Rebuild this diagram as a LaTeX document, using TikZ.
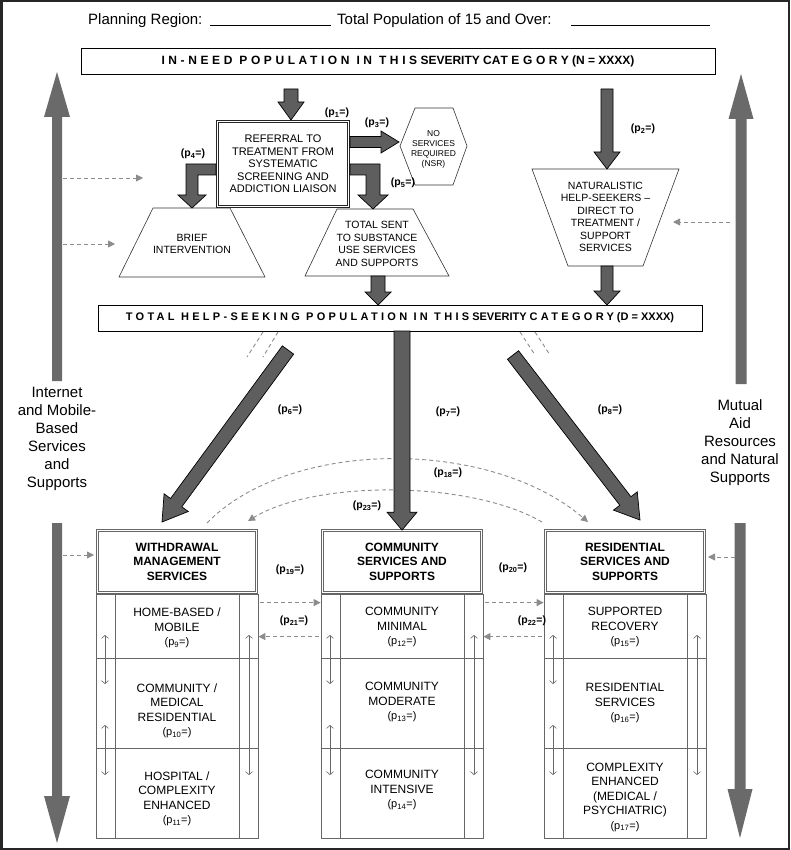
\documentclass[tikz,border=0pt]{standalone}
\usepackage{fontspec}
\setmainfont{Liberation Sans}
\usetikzlibrary{calc,arrows.meta}
\definecolor{arrgray}{HTML}{6A6A6A}
\definecolor{blkgray}{HTML}{5E5E5E}
\definecolor{linegray}{HTML}{666666}
\definecolor{dashgray}{HTML}{8C8C8C}
\newcommand{\pp}[1]{(p\textsubscript{#1}=)}
\newcommand{\rp}[1]{{\fontsize{11}{13}\selectfont(p\textsubscript{#1}=)}}
\newcommand{\spc}[1]{{\addfontfeatures{LetterSpace=30}#1}}
% style, start, end, half shaft, half head, head length
\newcommand{\blockarr}[6]{%
  \coordinate (bahead) at ($(#3)!#6!(#2)$);
  \draw[#1] ($(#2)!#4!90:(#3)$) -- ($(bahead)!#4!90:(#3)$) -- ($(bahead)!#5!90:(#3)$) -- (#3)
    -- ($(bahead)!#5!-90:(#3)$) -- ($(bahead)!#4!-90:(#3)$) -- ($(#2)!#4!-90:(#3)$) -- cycle;}
\tikzset{
 blk/.style={fill=blkgray, draw=black, line width=0.7pt, line join=miter},
 side/.style={fill=arrgray, draw=none},
 dsh/.style={draw=dashgray, line width=0.9pt, dash pattern=on 4pt off 3pt},
 dar/.style={dsh, -{Triangle[length=7pt,width=7pt]}},
 plab/.style={font=\bfseries\fontsize{10.5}{12}\selectfont, inner sep=0pt},
 hdr/.style={draw=linegray, double, double distance=1.8pt, line width=0.7pt, minimum width=159pt, minimum height=62pt, align=center, inner sep=0pt, font=\bfseries\fontsize{12}{14.5}\selectfont},
 body/.style={draw=linegray, line width=0.8pt, minimum width=162pt, minimum height=244pt, inner sep=0pt},
 rowtxt/.style={align=center, inner sep=0pt, font=\fontsize{12}{14.5}\selectfont},
 trap/.style={draw=black!80, line width=0.6pt},
 traptxt/.style={align=center, inner sep=0pt, font=\fontsize{10.5}{12.5}\selectfont},
 sidetxt/.style={align=center, inner sep=0pt, font=\fontsize{15}{18}\selectfont},
 tinyarr/.style={{Straight Barb[length=3pt,width=7pt]}-{Straight Barb[length=3pt,width=7pt]}, draw=linegray, line width=0.6pt}
}
\begin{document}
\begin{tikzpicture}[x=1pt,y=-1pt]
\useasboundingbox (0,0) rectangle (790,850);
\fill[white] (0,0) rectangle (790,850);
\draw[line width=2.5pt, black!85] (1.25,1.25) rectangle (788.75,848.75);

% header line
\node[anchor=base west, inner sep=0pt, font=\fontsize{15}{18}\selectfont] (plan) at (88,25) {Planning Region:};
\node[anchor=base west, inner sep=0pt, font=\fontsize{15}{18}\selectfont] (totpop) at (337,25) {Total Population of 15 and Over:};
\draw[line width=1pt] (210,26) -- (331,26);
\draw[line width=1pt] (571,26) -- (710,26);

% in-need box
\node[draw, line width=0.9pt, minimum width=634pt, minimum height=26pt, inner sep=0pt,
  font=\bfseries\fontsize{12}{14}\selectfont] (need) at (398,61)
  {\spc{IN-NEED POPULATION IN THIS} SEVERITY CA\spc{TEGORY} (N = XXXX)};

% side arrows
\coordinate (lupS) at (57,381); \coordinate (lupE) at (57,72);
\blockarr{side}{lupS}{lupE}{5pt}{13pt}{45pt}
\coordinate (ldnS) at (57,523); \coordinate (ldnE) at (57,843);
\blockarr{side}{ldnS}{ldnE}{5pt}{13pt}{47pt}
\coordinate (rupS) at (741,384); \coordinate (rupE) at (741,74);
\blockarr{side}{rupS}{rupE}{5.5pt}{12.5pt}{45pt}
\coordinate (rdnS) at (740,523); \coordinate (rdnE) at (740,838);
\blockarr{side}{rdnS}{rdnE}{5.5pt}{12.5pt}{49pt}

\node[sidetxt] (internet) at (57,439) {Internet\\and Mobile-\\Based\\Services\\and\\Supports};
\node[sidetxt] (mutual) at (740,443) {Mutual\\Aid\\Resources\\and Natural\\Supports};

% referral box
\node[draw=black!85, double, double distance=1.8pt, line width=0.7pt, minimum width=131pt, minimum height=85pt,
  align=center, inner sep=0pt, font=\fontsize{11}{12.5}\selectfont] (ref) at (283,164)
  {REFERRAL TO\\TREATMENT FROM\\SYSTEMATIC\\SCREENING AND\\ADDICTION LIAISON};

% NSR hexagon
\draw[trap] (400,146) -- (415,108) -- (453,108) -- (467,146) -- (453,185) -- (415,185) -- cycle;
\node[align=center, inner sep=0pt, font=\fontsize{8.5}{10}\selectfont] (nsr) at (433.5,149) {NO\\SERVICES\\REQUIRED\\(NSR)};

% trapezoids
\draw[trap] (153,208) -- (230,208) -- (265,277) -- (119,277) -- cycle;
\node[traptxt] (brief) at (192,244) {BRIEF\\INTERVENTION};
\draw[trap] (337,209) -- (413,209) -- (449,276) -- (305,276) -- cycle;
\node[traptxt] (sent) at (377,244) {TOTAL SENT\\TO SUBSTANCE\\USE SERVICES\\AND SUPPORTS};
\draw[trap] (532,169) -- (679,169) -- (643,266) -- (568,266) -- cycle;
\node[traptxt] (natur) at (605.5,217) {NATURALISTIC\\HELP-SEEKERS --\\DIRECT TO\\TREATMENT /\\SUPPORT\\SERVICES};

% help-seeking bar
\node[draw, line width=0.9pt, minimum width=604pt, minimum height=26pt, inner sep=0pt,
  font=\bfseries\fontsize{11}{13}\selectfont] (hs) at (400,318)
  {\spc{TOTAL HELP-SEEKING POPULATION IN THIS} SEVERITY \spc{CATEGORY} (D = XXXX)};

% columns
\node[body] (bL) at (177,716) {};
\node[body] (bM) at (402,716) {};
\node[body] (bR) at (625,716) {};
\foreach \cx in {177,402,625} {
  \draw[linegray, line width=0.8pt] (\cx-62,594) -- (\cx-62,838);
  \draw[linegray, line width=0.8pt] (\cx+62,594) -- (\cx+62,838);
  \draw[linegray, line width=0.8pt] (\cx-81,658) -- (\cx+81,658);
  \draw[linegray, line width=0.8pt] (\cx-81,748) -- (\cx+81,748);
  \draw[tinyarr] (\cx-72,635) -- (\cx-72,684);
  \draw[tinyarr] (\cx-72,725) -- (\cx-72,775);
  \draw[tinyarr] (\cx+72,635) -- (\cx+72,775);
}
\node[hdr, fill=white] (hL) at (177,561.5) {WITHDRAWAL\\MANAGEMENT\\SERVICES};
\node[hdr, fill=white] (hM) at (402,561.5) {COMMUNITY\\SERVICES AND\\SUPPORTS};
\node[hdr, fill=white] (hR) at (625,561.5) {RESIDENTIAL\\SERVICES AND\\SUPPORTS};

\node[rowtxt] (l1) at (177,628) {HOME-BASED /\\MOBILE\\\rp{9}};
\node[rowtxt] (l2) at (177,711) {COMMUNITY /\\MEDICAL\\RESIDENTIAL\\\rp{10}};
\node[rowtxt] (l3) at (177,799) {HOSPITAL /\\COMPLEXITY\\ENHANCED\\\rp{11}};
\node[rowtxt] (m1) at (402,627) {COMMUNITY\\MINIMAL\\\rp{12}};
\node[rowtxt] (m2) at (402,702) {COMMUNITY\\MODERATE\\\rp{13}};
\node[rowtxt] (m3) at (402,790) {COMMUNITY\\INTENSIVE\\\rp{14}};
\node[rowtxt] (r1) at (625,627) {SUPPORTED\\RECOVERY\\\rp{15}};
\node[rowtxt] (r2) at (625,703) {RESIDENTIAL\\SERVICES\\\rp{16}};
\node[rowtxt] (r3) at (625,797) {COMPLEXITY\\ENHANCED\\(MEDICAL /\\PSYCHIATRIC)\\\rp{17}};

% dashed side arrows
\coordinate (ds1) at (63,178); \coordinate (de1) at (143,178);
\coordinate (ds2) at (63,244); \coordinate (de2) at (115,244);
\coordinate (ds3) at (730,222); \coordinate (de3) at (673,222);
\coordinate (ds4) at (63,555); \coordinate (de4) at (94,555);
\coordinate (ds5) at (735,557); \coordinate (de5) at (708,557);
\draw[dar] (ds1) -- (de1);
\draw[dar] (ds2) -- (de2);
\draw[dar] (ds3) -- (de3);
\draw[dar] (ds4) -- (de4);
\draw[dar] (ds5) -- (de5);

% dashed between columns
\draw[dar] ($(bL.north east)+(2,9)$) -- ($(bM.north west)+(0,9)$);
\draw[dar] ($(bM.north west)+(-2,43)$) -- ($(bL.north east)+(0,43)$);
\draw[dar] ($(bM.north east)+(2,9)$) -- ($(bR.north west)+(0,9)$);
\draw[dar] ($(bR.north west)+(-2,43)$) -- ($(bM.north east)+(0,43)$);

% curved dashed arrows
\coordinate (c18s) at (207,523); \coordinate (c18e) at (588,522);
\coordinate (c23s) at (542,522); \coordinate (c23e) at (248,521);
\draw[dar] (c18s) .. controls (290,438) and (490,438) .. (c18e);
\draw[dar] (c23s) .. controls (470,480) and (315,480) .. (c23e);

% short dashed marks under the bar
\draw[dsh] (278,332) -- (263,357);
\draw[dsh] (263,332) -- (247,357);
\draw[dsh] (520,332) -- (535,355);
\draw[dsh] (535,332) -- (550,355);

% block arrows
\coordinate (p1s) at (291,89); \coordinate (p1e) at (291,120);
\blockarr{blk}{p1s}{p1e}{7pt}{13pt}{18pt}
\coordinate (p3s) at (350,142); \coordinate (p3e) at (399,142);
\blockarr{blk}{p3s}{p3e}{5.5pt}{11pt}{18pt}
\coordinate (p2s) at (607,89); \coordinate (p2e) at (607,169);
\blockarr{blk}{p2s}{p2e}{6pt}{13pt}{17pt}
\coordinate (nts) at (607,266); \coordinate (nte) at (607,305);
\blockarr{blk}{nts}{nte}{6pt}{13pt}{14pt}
\coordinate (tss) at (378,276); \coordinate (tse) at (378,305);
\blockarr{blk}{tss}{tse}{7pt}{13pt}{13pt}
\coordinate (p7s) at (402,331);
\blockarr{blk}{p7s}{hM.north}{8pt}{15pt}{18pt}
\coordinate (p6s) at (288,350); \coordinate (p6e) at (162,522);
\blockarr{blk}{p6s}{p6e}{7pt}{15pt}{24pt}
\coordinate (p8s) at (513,355); \coordinate (p8e) at (640,520);
\blockarr{blk}{p8s}{p8e}{7pt}{15pt}{24pt}
% L-shaped arrows
\draw[blk] (216,164) -- (186,164) -- (186,195) -- (178,195) -- (192,208) -- (206,195) -- (198,195) -- (198,175) -- (216,175) -- cycle;
\draw[blk] (350,164) -- (380,164) -- (380,195) -- (388,195) -- (373,209) -- (358,195) -- (366,195) -- (366,175) -- (350,175) -- cycle;

% probability labels
\node[plab] (l1p) at (337,113) {\pp{1}};
\node[plab] (l2p) at (643,129) {\pp{2}};
\node[plab] (l3p) at (377,123) {\pp{3}};
\node[plab] (l4p) at (193,154) {\pp{4}};
\node[plab] (l5p) at (403,183) {\pp{5}};
\node[plab] (l6p) at (290,410) {\pp{6}};
\node[plab] (l7p) at (448,412) {\pp{7}};
\node[plab] (l8p) at (610,410) {\pp{8}};
\node[plab] (l18p) at (448,473) {\pp{18}};
\node[plab] (l19p) at (290,570) {\pp{19}};
\node[plab] (l20p) at (513,568) {\pp{20}};
\node[plab] (l21p) at (294,621) {\pp{21}};
\node[plab] (l22p) at (532,621) {\pp{22}};
\node[plab] (l23p) at (367,506) {\pp{23}};
\end{tikzpicture}
\end{document}
